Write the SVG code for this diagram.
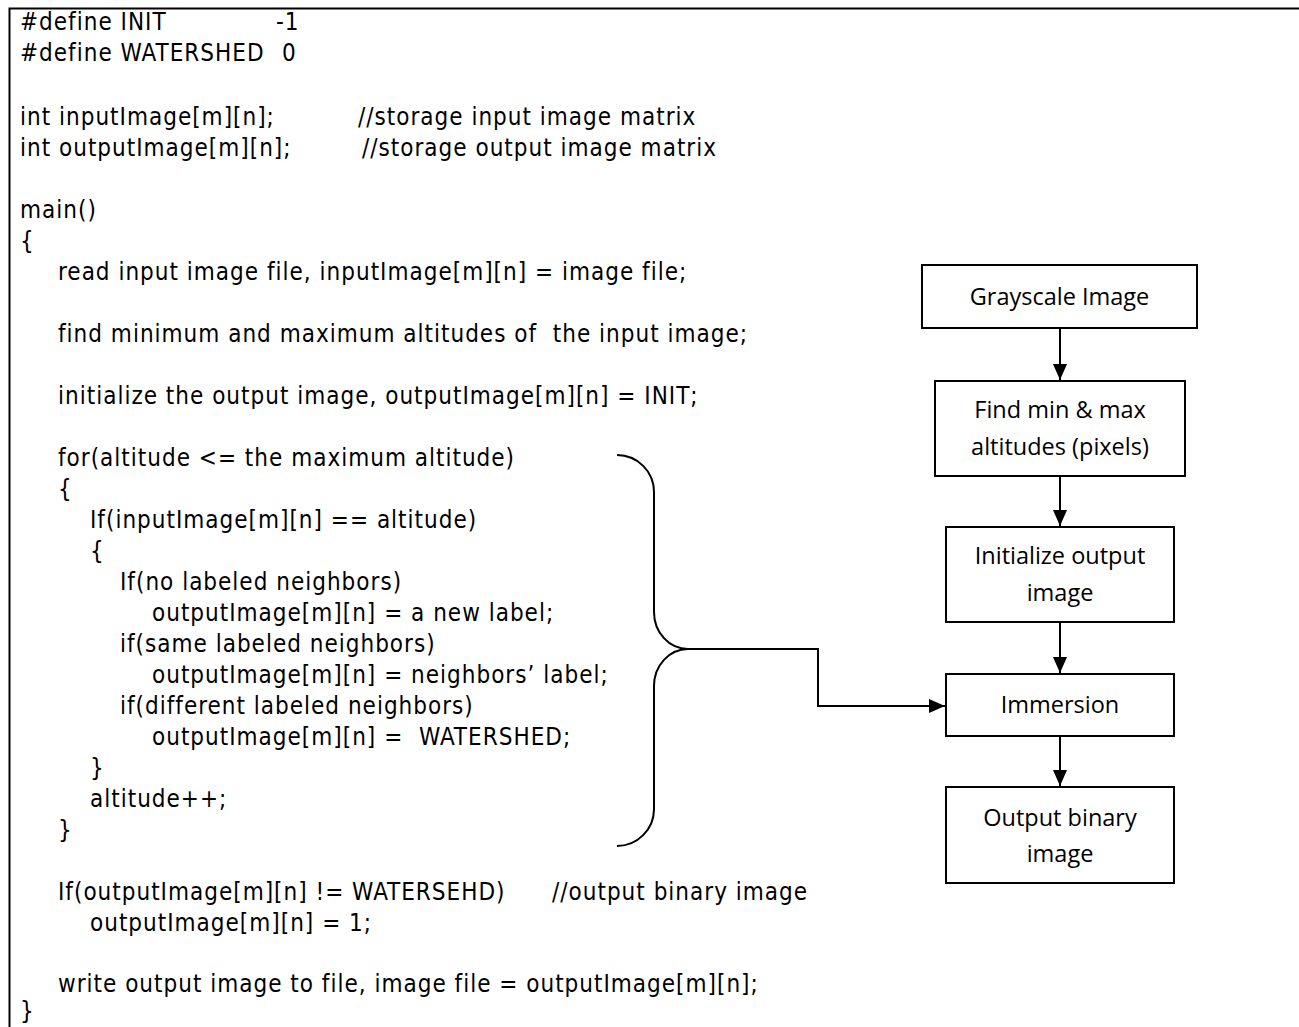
<svg xmlns="http://www.w3.org/2000/svg" width="1299" height="1027" viewBox="0 0 1299 1027">
  <style>
    .code { font-family: "DejaVu Sans Condensed", "DejaVu Sans", sans-serif; font-size: 24px; letter-spacing: 1px; fill: #000; }
    .box { fill: #fff; stroke: #000; stroke-width: 2; }
    .lbl { font-family: "Open Sans", "Noto Sans", sans-serif; font-size: 23.5px; fill: #000; text-anchor: middle; }
    .wire { fill: none; stroke: #000; stroke-width: 2; }
  </style>
  <defs>
    <marker id="head" viewBox="0 0 16 14" refX="16" refY="7" markerWidth="16" markerHeight="14" markerUnits="userSpaceOnUse" orient="auto">
      <path d="M0,0 L16,7 L0,14 Z" fill="#000"/>
    </marker>
  </defs>

  <rect width="1299" height="1027" fill="#fff"/>
  <!-- page frame: top and left edges only -->
  <path d="M9.5,1027 V8.5 H1299" fill="none" stroke="#000" stroke-width="2"/>

  <!-- pseudocode listing -->
  <g id="listing" class="code">
    <text x="20" y="30">#define INIT</text><text x="276" y="30">-1</text>
    <text x="20" y="61">#define WATERSHED</text><text x="282" y="61">0</text>
    <text x="20" y="125">int inputImage[m][n];</text><text x="358" y="125">//storage input image matrix</text>
    <text x="20" y="156">int outputImage[m][n];</text><text x="362" y="156">//storage output image matrix</text>
    <text x="20" y="218">main()</text>
    <text x="20" y="249">{</text>
    <text x="58" y="280">read input image file, inputImage[m][n] = image file;</text>
    <text x="58" y="342">find minimum and maximum altitudes of&#160; the input image;</text>
    <text x="58" y="404">initialize the output image, outputImage[m][n] = INIT;</text>
    <text x="58" y="466">for(altitude &lt;= the maximum altitude)</text>
    <text x="58" y="497">{</text>
    <text x="90" y="528">If(inputImage[m][n] == altitude)</text>
    <text x="90" y="559">{</text>
    <text x="120" y="590">If(no labeled neighbors)</text>
    <text x="152" y="621">outputImage[m][n] = a new label;</text>
    <text x="120" y="652">if(same labeled neighbors)</text>
    <text x="152" y="683">outputImage[m][n] = neighbors’ label;</text>
    <text x="120" y="714">if(different labeled neighbors)</text>
    <text x="152" y="745">outputImage[m][n] =&#160; WATERSHED;</text>
    <text x="90" y="776">}</text>
    <text x="90" y="807">altitude++;</text>
    <text x="58" y="838">}</text>
    <text x="58" y="900">If(outputImage[m][n] != WATERSEHD)</text><text x="552" y="900">//output binary image</text>
    <text x="90" y="931">outputImage[m][n] = 1;</text>
    <text x="58" y="992">write output image to file, image file = outputImage[m][n];</text>
    <text x="20" y="1019">}</text>
  </g>

  <!-- flowchart nodes -->
  <g id="grayscale">
    <rect class="box" x="922" y="265" width="275" height="63"/>
    <text class="lbl" x="1059.5" y="305">Grayscale Image</text>
  </g>
  <g id="minmax">
    <rect class="box" x="935" y="381" width="250" height="95"/>
    <text class="lbl" x="1060" y="418">Find min &amp; max</text>
    <text class="lbl" x="1060" y="455">altitudes (pixels)</text>
  </g>
  <g id="init">
    <rect class="box" x="946" y="527" width="228" height="95"/>
    <text class="lbl" x="1060" y="564">Initialize output</text>
    <text class="lbl" x="1060" y="601">image</text>
  </g>
  <g id="immersion">
    <rect class="box" x="946" y="674" width="228" height="62"/>
    <text class="lbl" x="1060" y="713">Immersion</text>
  </g>
  <g id="output">
    <rect class="box" x="946" y="787" width="228" height="96"/>
    <text class="lbl" x="1060" y="826">Output binary</text>
    <text class="lbl" x="1060" y="862">image</text>
  </g>

  <!-- connectors -->
  <g id="connectors" class="wire">
    <path d="M617,455 A37,37 0 0 1 654,492 L654,612 A34,37 0 0 0 688,649 A34,37 0 0 0 654,686 L654,809 A37,37 0 0 1 617,846"/>
    <path d="M688,649 H818 V706 H945" marker-end="url(#head)"/>
    <path d="M1060,328 V380" marker-end="url(#head)"/>
    <path d="M1060,476 V526" marker-end="url(#head)"/>
    <path d="M1060,622 V673" marker-end="url(#head)"/>
    <path d="M1060,736 V786" marker-end="url(#head)"/>
  </g>
</svg>
